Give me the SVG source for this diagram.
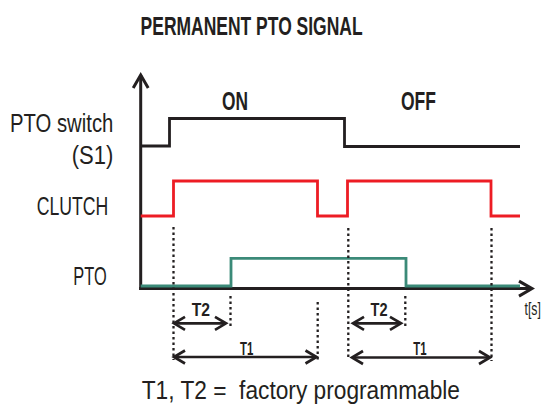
<svg xmlns="http://www.w3.org/2000/svg" width="544" height="413" viewBox="0 0 544 413">
<style>
text{font-family:"Liberation Sans",Arial,sans-serif;fill:#231f20}
.b{font-weight:bold}
.lbl{font-size:26.5px}
.sm{font-size:18px}
.sig{fill:none;stroke-width:2.8;stroke-linejoin:miter}
.dot{stroke:#231f20;stroke-width:2.3;stroke-dasharray:2.4 3.1;fill:none}
.dim{stroke:#231f20;stroke-width:2.7;fill:none;marker-start:url(#ah);marker-end:url(#ah)}
</style>
<defs>
<marker id="ah" markerUnits="userSpaceOnUse" markerWidth="30" markerHeight="30" viewBox="-15 -15 30 30" refX="0" refY="0" orient="auto-start-reverse" overflow="visible">
<path d="M-11,-6.5 L0,0 L-11,6.5" fill="none" stroke="#231f20" stroke-width="2.7"/>
</marker>
<marker id="ax" markerUnits="userSpaceOnUse" markerWidth="30" markerHeight="30" viewBox="-15 -15 30 30" refX="0" refY="0" orient="auto" overflow="visible">
<path d="M-13,-7.5 L0,0 L-13,7.5" fill="none" stroke="#231f20" stroke-width="3"/>
</marker>
</defs>
<rect width="544" height="413" fill="#ffffff"/>
<g id="title">
<text class="b" x="140.6" y="35" font-size="26" textLength="222" lengthAdjust="spacingAndGlyphs">PERMANENT PTO SIGNAL</text>
</g>
<g id="state-labels">
<text class="b lbl" x="222" y="110" textLength="26" lengthAdjust="spacingAndGlyphs">ON</text>
<text class="b lbl" x="401" y="110" textLength="35" lengthAdjust="spacingAndGlyphs">OFF</text>
</g>
<g id="row-labels">
<text class="lbl" x="10" y="131.7" textLength="103.3" lengthAdjust="spacingAndGlyphs">PTO switch</text>
<text class="lbl" x="71.7" y="163.5" textLength="41.6" lengthAdjust="spacingAndGlyphs">(S1)</text>
<text class="lbl" x="36.7" y="215" textLength="71.6" lengthAdjust="spacingAndGlyphs">CLUTCH</text>
<text class="lbl" x="73.3" y="285" textLength="33.4" lengthAdjust="spacingAndGlyphs">PTO</text>
</g>
<g id="axes">
<line x1="140.7" y1="290" x2="140.7" y2="75" stroke="#231f20" stroke-width="3" marker-end="url(#ax)"/>
<line x1="139.2" y1="288.6" x2="532" y2="288.6" stroke="#231f20" stroke-width="3" marker-end="url(#ax)"/>
<text transform="translate(524.5,315) scale(0.68,1)" font-size="18">t[s]</text>
</g>
<g id="signals">
<polyline id="sig-switch" class="sig" stroke="#231f20" points="140.7,146 169.5,146 169.5,118.5 344.5,118.5 344.5,146.5 520,146.5"/>
<polyline id="sig-clutch" class="sig" stroke="#ed1c24" points="140.7,216 173.5,216 173.5,181 317.5,181 317.5,216 347.5,216 347.5,181 491,181 491,216 520,216"/>
<polyline id="sig-pto" class="sig" stroke="#3b8a78" stroke-width="3" points="140.7,286 231,286 231,258.3 406,258.3 406,286 520,286"/>
</g>
<g id="connectors">
<line class="dot" x1="173.5" y1="227" x2="173.5" y2="360"/>
<line class="dot" x1="230.5" y1="296" x2="230.5" y2="327"/>
<line class="dot" x1="317.7" y1="302" x2="317.7" y2="361"/>
<line class="dot" x1="348.3" y1="228" x2="348.3" y2="360"/>
<line class="dot" x1="405.3" y1="296" x2="405.3" y2="327"/>
<line class="dot" x1="491.5" y1="228" x2="491.5" y2="361"/>
<line class="dim" x1="174" y1="323.3" x2="226" y2="323.3"/>
<line class="dim" x1="174" y1="357" x2="316.5" y2="357"/>
<line class="dim" x1="353" y1="323.3" x2="401" y2="323.3"/>
<line class="dim" x1="352" y1="357.5" x2="490" y2="357.5"/>
</g>
<g id="dim-labels">
<text class="b sm" x="191.7" y="316" textLength="18.3" lengthAdjust="spacingAndGlyphs">T2</text>
<text class="b sm" x="240" y="354.5" textLength="13.3" lengthAdjust="spacingAndGlyphs">T1</text>
<text class="b sm" x="370.5" y="316" textLength="17" lengthAdjust="spacingAndGlyphs">T2</text>
<text class="b sm" x="413.3" y="354.5" textLength="13.3" lengthAdjust="spacingAndGlyphs">T1</text>
</g>
<g id="footer">
<text class="lbl" x="141.7" y="399.3" style="white-space:pre" textLength="318.3" lengthAdjust="spacingAndGlyphs">T1, T2 =  factory programmable</text>
</g>
</svg>
